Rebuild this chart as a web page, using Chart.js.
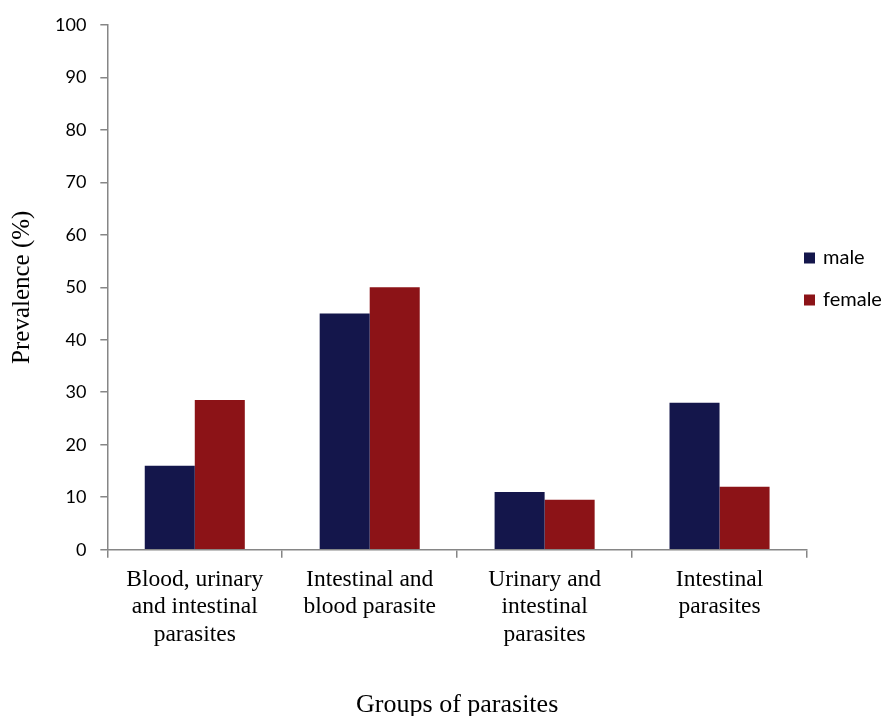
<!DOCTYPE html>
<html>
<head>
<meta charset="utf-8">
<script src="https://cdn.jsdelivr.net/npm/chart.js@4/dist/chart.umd.min.js"></script>
<style>
html,body{margin:0;padding:0;background:#fff;}
#wrap{width:883px;height:716px;position:relative;}
</style>
</head>
<body>
<div id="wrap"><canvas id="c" width="883" height="716"></canvas></div>
<script>
const categories = [
  ["Blood, urinary", "and intestinal", "parasites"],
  ["Intestinal and", "blood parasite"],
  ["Urinary and", "intestinal", "parasites"],
  ["Intestinal", "parasites"]
];
const maleValues = [16, 45, 11, 28];
const femaleValues = [28.5, 50, 9.5, 12];
const seriesNames = ["male", "female"];
const yTicks = [0, 10, 20, 30, 40, 50, 60, 70, 80, 90, 100];

const axisColor = "#868686";
const serif = "'Liberation Serif', 'Times New Roman', serif";
const sans = "'Lato', 'Open Sans', sans-serif";

// Custom legend drawn to the right of the plot (text is real canvas text)
const sideLegend = {
  id: "sideLegend",
  afterDraw(chart) {
    const ctx = chart.ctx;
    const ca = chart.chartArea;
    const x0 = ca.right - 3;
    const yStart = 258;
    const gap = 42;
    ctx.save();
    ctx.font = "20px " + sans;
    ctx.textBaseline = "middle";
    ctx.textAlign = "left";
    chart.data.datasets.forEach((ds, i) => {
      const y = yStart + i * gap;
      ctx.fillStyle = ds.backgroundColor;
      ctx.fillRect(x0, y - 5.5, 11, 11);
      ctx.fillStyle = "#000";
      ctx.fillText(ds.label, x0 + 19, y);
    });
    ctx.restore();
  }
};

new Chart(document.getElementById("c"), {
  type: "bar",
  data: {
    labels: categories,
    datasets: [
      { label: seriesNames[0], data: maleValues, backgroundColor: "#14164b", borderWidth: 0,
        categoryPercentage: 0.572, barPercentage: 1.0 },
      { label: seriesNames[1], data: femaleValues, backgroundColor: "#8c1317", borderWidth: 0,
        categoryPercentage: 0.572, barPercentage: 1.0 }
    ]
  },
  plugins: [sideLegend],
  options: {
    responsive: false,
    animation: false,
    devicePixelRatio: 1,
    layout: { padding: { left: 7, top: 24, right: 76, bottom: 0 } },
    plugins: {
      tooltip: { enabled: false },
      legend: { display: false }
    },
    scales: {
      x: {
        grid: { display: true, drawOnChartArea: false, offset: true, color: axisColor, tickLength: 8, lineWidth: 1.5 },
        border: { color: axisColor, width: 1.5 },
        ticks: { font: { family: serif, size: 23.5, lineHeight: 1.17 }, color: "#000", padding: 8, maxRotation: 0, autoSkip: false },
        title: { display: true, text: "Groups of parasites", font: { family: serif, size: 26, lineHeight: 0.8 }, color: "#000", padding: { top: 39, bottom: 0 } }
      },
      y: {
        min: 0, max: 100,
        afterBuildTicks: (axis) => { axis.ticks = yTicks.map(v => ({ value: v })); },
        grid: { display: true, drawOnChartArea: false, color: axisColor, tickLength: 7, lineWidth: 1.5 },
        border: { color: axisColor, width: 1.5 },
        ticks: { font: { family: sans, size: 18 }, color: "#000", padding: 14 },
        title: { display: true, text: "Prevalence (%)", font: { family: serif, size: 25, lineHeight: 1.2 }, color: "#000", padding: { top: 0, bottom: 4 } }
      }
    }
  }
});
</script>
</body>
</html>
